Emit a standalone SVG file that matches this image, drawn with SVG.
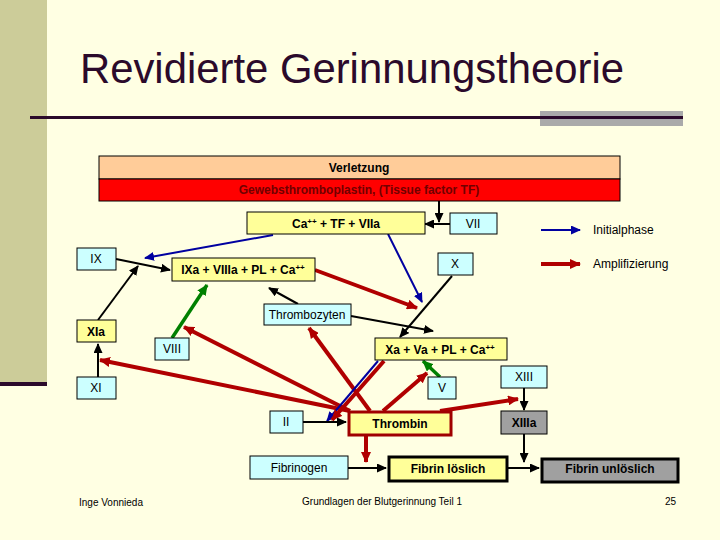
<svg xmlns="http://www.w3.org/2000/svg" width="720" height="540" viewBox="0 0 720 540">
<defs>
<style>
text{font-family:"Liberation Sans",Arial,sans-serif;fill:#000}
.bx{stroke:#000;stroke-width:1}
.cy{fill:#CCFFFF}
.yl{fill:#FFFF99}
.gy{fill:#A0A0A0}
.t{font-size:12px;text-anchor:middle}
.b{font-weight:bold}
.k{stroke:#000;stroke-width:2;fill:none;marker-end:url(#ak)}
.r{stroke:#B00000;stroke-width:4;fill:none;marker-end:url(#ar)}
.u{stroke:#0000A0;stroke-width:2;fill:none;marker-end:url(#au)}
.g{stroke:#008000;stroke-width:3.5;fill:none;marker-end:url(#ag)}
.f{font-size:10px}
</style>
<marker id="ak" markerUnits="userSpaceOnUse" markerWidth="10" markerHeight="9" refX="9" refY="4.5" orient="auto"><path d="M0,0 L10,4.5 L0,9 z" fill="#000"/></marker>
<marker id="ar" markerUnits="userSpaceOnUse" markerWidth="11" markerHeight="10" refX="10" refY="5" orient="auto"><path d="M0,0 L11,5 L0,10 z" fill="#B00000"/></marker>
<marker id="au" markerUnits="userSpaceOnUse" markerWidth="10" markerHeight="9" refX="9" refY="4.5" orient="auto"><path d="M0,0 L10,4.5 L0,9 z" fill="#0000A0"/></marker>
<marker id="ag" markerUnits="userSpaceOnUse" markerWidth="11" markerHeight="10" refX="10" refY="5" orient="auto"><path d="M0,0 L11,5 L0,10 z" fill="#008000"/></marker>
</defs>
<rect width="720" height="540" fill="#FFFFE3"/>
<rect x="0" y="0" width="47" height="382" fill="#CCCC99"/>
<rect x="0" y="382" width="47" height="4" fill="#2B0A2B"/>
<rect x="540" y="111" width="143" height="15" fill="#AAAAAA"/>
<rect x="30" y="116" width="653" height="3" fill="#2B0A2B"/>
<text x="80" y="83" textLength="544" lengthAdjust="spacingAndGlyphs" style="font-size:42px;fill:#2B0A2B">Revidierte Gerinnungstheorie</text>

<g id="connectors">
<path class="k" d="M439,201 V222"/>
<path class="k" d="M450,224 H425"/>
<path class="u" d="M273,235 L145,258"/>
<path class="k" d="M116,259 L170,270"/>
<path class="k" d="M98,320 L138,266"/>
<path class="g" d="M172,338 L207,285"/>
<path class="k" d="M298,304 L269,288"/>
<path class="r" d="M315,270 L417,308"/>
<path class="u" d="M388,234 L422,302"/>
<path class="k" d="M452,276 L400,337"/>
<path class="k" d="M351,316 L433,331"/>
<path class="k" d="M98,377 V344"/>
<path class="g" d="M440,377 L423,361"/>
<path class="k" d="M524,388 V410"/>
<path class="r" d="M350,411 L100,360"/>
<path class="r" d="M350,411 L184,327"/>
<path class="r" d="M370,411 L309,328"/>
<path class="r" d="M383,411 L427,373"/>
<path class="r" d="M440,411 L518,399"/>
<path class="u" d="M378,361 L327,421"/>
<path class="r" d="M384,361 L332,420"/>
<path class="k" d="M303,422 H346"/>
<path class="r" d="M366,436 V462"/>
<path class="k" d="M348,468 H386"/>
<path class="k" d="M507,468 H539"/>
<path class="k" d="M524,434 V462"/>
<path d="M541,230 H580" stroke="#0000A0" stroke-width="2" marker-end="url(#au)"/>
<path d="M541,264 H580" stroke="#B00000" stroke-width="4" marker-end="url(#ar)"/>
</g>

<g id="verletzung"><rect class="bx" x="99" y="156" width="521" height="23" fill="#FFCC99"/><text class="t b" x="359" y="172">Verletzung</text></g>
<g id="gewebs"><rect class="bx" x="99" y="179" width="521" height="22" fill="#FF0000"/><text class="t b" x="359" y="194" style="fill:#700000">Gewebsthromboplastin, (Tissue factor TF)</text></g>
<g id="ca-tf"><rect class="bx yl" x="247" y="212" width="178" height="22"/><text class="t b" x="336" y="228">Ca<tspan font-size="8" dy="-4">++</tspan><tspan dy="4"> + TF + VIIa</tspan></text></g>
<g id="vii"><rect class="bx cy" x="450" y="213" width="47" height="21"/><text class="t" x="473" y="228">VII</text></g>
<g id="ix"><rect class="bx cy" x="77" y="248" width="39" height="22"/><text class="t" x="96" y="263">IX</text></g>
<g id="x"><rect class="bx cy" x="438" y="253" width="35" height="22"/><text class="t" x="455" y="268">X</text></g>
<g id="ixa"><rect class="bx yl" x="172" y="258" width="143" height="23"/><text class="t b" x="243" y="274">IXa + VIIIa + PL + Ca<tspan font-size="8" dy="-4">++</tspan></text></g>
<g id="thrombozyten"><rect class="bx cy" x="264" y="304" width="87" height="21"/><text class="t" x="307" y="319">Thrombozyten</text></g>
<g id="xia"><rect class="bx yl" x="77" y="320" width="39" height="22"/><text class="t b" x="96" y="336">XIa</text></g>
<g id="viii"><rect class="bx cy" x="155" y="338" width="34" height="22"/><text class="t" x="172" y="353">VIII</text></g>
<g id="xa"><rect class="bx yl" x="375" y="338" width="132" height="22"/><text class="t b" x="440" y="354">Xa + Va + PL + Ca<tspan font-size="8" dy="-4">++</tspan></text></g>
<g id="xiii"><rect class="bx cy" x="501" y="366" width="46" height="22"/><text class="t" x="524" y="381">XIII</text></g>
<g id="xi"><rect class="bx cy" x="77" y="377" width="39" height="22"/><text class="t" x="96" y="392">XI</text></g>
<g id="v"><rect class="bx cy" x="428" y="377" width="28" height="22"/><text class="t" x="442" y="392">V</text></g>
<g id="ii"><rect class="bx cy" x="270" y="411" width="33" height="22"/><text class="t" x="286" y="426">II</text></g>
<g id="thrombin"><rect x="349" y="412" width="102" height="23" fill="#FFFF99" stroke="#A00000" stroke-width="3"/><text class="t b" x="400" y="428">Thrombin</text></g>
<g id="xiiia"><rect class="bx gy" x="501" y="411" width="46" height="23"/><text class="t b" x="524" y="427">XIIIa</text></g>
<g id="fibrinogen"><rect class="bx cy" x="250" y="456" width="98" height="23"/><text class="t" x="299" y="472">Fibrinogen</text></g>
<g id="fibrin-loeslich"><rect x="389" y="457" width="118" height="24" fill="#FFFF99" stroke="#000" stroke-width="3"/><text class="t b" x="448" y="473">Fibrin löslich</text></g>
<g id="fibrin-unloeslich"><rect x="542" y="459" width="136" height="23" fill="#A0A0A0" stroke="#000" stroke-width="3"/><text class="t b" x="610" y="473">Fibrin unlöslich</text></g>

<g id="legend">
<text x="593" y="234" style="font-size:12px">Initialphase</text>
<text x="593" y="268" style="font-size:12px">Amplifizierung</text>
</g>
<text class="f" x="79" y="506">Inge Vonnieda</text>
<text class="f" x="382" y="505" text-anchor="middle">Grundlagen der Blutgerinnung Teil 1</text>
<text class="f" x="676" y="505" text-anchor="end">25</text>
</svg>
